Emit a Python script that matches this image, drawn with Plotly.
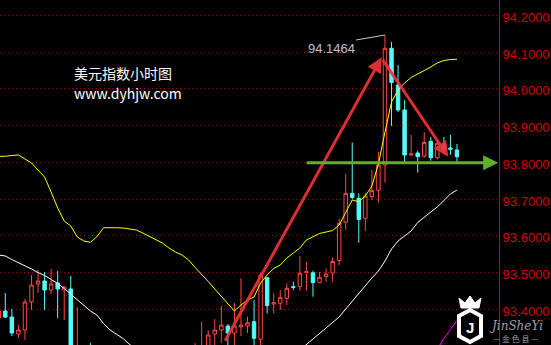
import plotly.graph_objects as go

# ---------------- data ----------------
candle_idx = [-1, 0, 1, 2, 3, 4, 5, 6, 7, 8, 9, 10, 11, 13,
              29, 30, 31, 32, 33, 34, 35, 36, 37, 38, 39, 40, 41, 42, 43, 44,
              45, 46, 47, 48, 49, 50, 51, 52, 53, 54, 55, 56, 57, 58, 59, 60,
              61, 62, 63, 64, 65, 66, 67, 68, 69]
opens = [93.3763, 93.3954, 93.3791, 93.3328, 93.3437, 93.4199, 93.4689, 93.4770, 93.4525, 93.4716, 93.4525, 93.4552, 93.2500, 93.2800,
         93.2600, 93.2600, 93.2800, 93.3328, 93.3437, 93.3546, 93.3355, 93.3519, 93.3546, 93.3663, 93.3184, 93.4860, 93.4144, 93.4163, 93.4299, 93.4615,
         93.4615, 93.5007, 93.4996, 93.4724, 93.4887, 93.4988, 93.5328, 93.6370, 93.7156, 93.7020, 93.6476, 93.7064, 93.7238, 93.7927, 94.1102, 94.0103,
         93.9423, 93.8199, 93.8253, 93.8166, 93.8571, 93.8125, 93.8490, 93.8389, 93.8335]
highs = [93.3981, 93.4444, 93.4008, 93.3573, 93.4280, 93.4933, 93.5069, 93.5015, 93.5097, 93.5042, 93.4634, 93.4906, 93.4063, 93.3083,
         93.3083, 93.3663, 93.3437, 93.3736, 93.4090, 93.3600, 93.4172, 93.4852, 93.3799, 93.4253, 93.4996, 93.4871, 93.4444, 93.4525, 93.4707, 93.4751,
         93.5450, 93.5295, 93.5050, 93.5023, 93.5116, 93.5415, 93.6465, 93.7682, 93.8539, 93.7156, 93.7173, 93.7790, 93.8280, 94.1464, 94.1273, 94.0648,
         93.9695, 93.8743, 93.8316, 93.8824, 93.8688, 93.8580, 93.8688, 93.8743, 93.8498]
lows = [93.3709, 93.3763, 93.3274, 93.3219, 93.3165, 93.3981, 93.4444, 93.3981, 93.4416, 93.3763, 93.3709, 93.2500, 93.2400, 93.2500,
        93.2500, 93.2500, 93.2700, 93.2900, 93.3083, 93.2900, 93.3000, 93.3274, 93.3355, 93.2950, 93.2950, 93.3891, 93.3891, 93.3981, 93.4117, 93.4525,
        93.4506, 93.4506, 93.4343, 93.4716, 93.4751, 93.4751, 93.5200, 93.6166, 93.7001, 93.5812, 93.6131, 93.6982, 93.6901, 93.7450, 93.8988, 93.9369,
        93.8008, 93.8180, 93.7722, 93.8122, 93.8044, 93.8082, 93.8226, 93.8199, 93.7973]
closes = [93.3954, 93.3791, 93.3355, 93.3437, 93.4199, 93.4661, 93.4770, 93.4525, 93.4689, 93.4552, 93.4607, 93.2600, 93.2900, 93.2600,
          93.2800, 93.2900, 93.3301, 93.3437, 93.3573, 93.3355, 93.3546, 93.3573, 93.3636, 93.3211, 93.4933, 93.4098, 93.4180, 93.4327, 93.4572, 93.4599,
          93.4980, 93.5023, 93.4724, 93.4871, 93.4961, 93.5301, 93.6340, 93.7156, 93.7042, 93.6444, 93.7083, 93.7233, 93.7927, 94.1102, 94.0171, 93.9423,
          93.8199, 93.8226, 93.8152, 93.8539, 93.8125, 93.8517, 93.8362, 93.8354, 93.8152]

ma_idx = list(range(-1, 70))
ma_yellow = [93.8163, 93.8163, 93.8185, 93.8199, 93.8090, 93.7981, 93.7790, 93.7600, 93.7192, 93.6756,
             93.6403, 93.6267, 93.5967, 93.5859, 93.5823, 93.5976, 93.6220, 93.6226, 93.6220, 93.6212,
             93.6193, 93.6158, 93.6076, 93.5981, 93.5894, 93.5804, 93.5668, 93.5559, 93.5478, 93.5342,
             93.5137, 93.4961, 93.4757, 93.4552, 93.4362, 93.4144, 93.3954, 93.4117, 93.4253, 93.4335,
             93.4716, 93.4933, 93.5110, 93.5206, 93.5396, 93.5532, 93.5668, 93.5886, 93.5981, 93.6063,
             93.6103, 93.6144, 93.6294, 93.6648, 93.6974, 93.6928, 93.7083, 93.7355, 93.7954, 93.8824,
             93.9641, 93.9967, 94.0158, 94.0307, 94.0403, 94.0484, 94.0593, 94.0702, 94.0770, 94.0797,
             94.0803]
ma_white = [93.5478, 93.5450, 93.5355, 93.5274, 93.5192, 93.5097, 93.5001, 93.4920, 93.4811, 93.4702,
            93.4566, 93.4416, 93.4240, 93.4090, 93.3954, 93.3845, 93.3614, 93.3437, 93.3314, 93.3206,
            93.3042, 93.2920] + [None] * 24 + [
            93.2893, 93.3042, 93.3192, 93.3328, 93.3491, 93.3641, 93.3791, 93.4008, 93.4226, 93.4444,
            93.4661, 93.4852, 93.5042, 93.5314, 93.5641, 93.5859, 93.5995, 93.6131, 93.6362, 93.6512,
            93.6648, 93.6784, 93.6974, 93.7137, 93.7246]
ma_magenta_idx = [66, 67, 68, 69]
ma_magenta = [93.2920, 93.3206, 93.3450, 93.3695]

tick_vals = [93.4, 93.5, 93.6, 93.7, 93.8, 93.9, 94.0, 94.1, 94.2]
tick_text = ["%.4f" % v for v in tick_vals]

peak_value = 94.1464
peak_marker_idx = [53.6, 56.75, 58.0]
peak_marker_val = [94.1328, 94.1437, 94.1464]
peak_label_pos = (49.9, 94.111)

# arrows: (tail idx, tail price, head idx, head price)
arrow_up = (33.45, 93.3102, 57.5, 94.0857)
arrow_down = (57.5, 94.0830, 67.68, 93.8152)
support_level = 93.799
support_span = (45.8, 75.3)

x_range = [-0.81, 75.42]
y_range = [93.3029, 94.2416]

# ---------------- figure ----------------
fig = go.Figure()

fig.add_trace(go.Scatter(x=ma_idx, y=ma_white, mode="lines",
                         line=dict(color="#ffffff", width=1), connectgaps=False,
                         hoverinfo="skip", showlegend=False))
fig.add_trace(go.Scatter(x=ma_magenta_idx, y=ma_magenta, mode="lines",
                         line=dict(color="#ff00ff", width=1),
                         hoverinfo="skip", showlegend=False))
fig.add_trace(go.Scatter(x=ma_idx, y=ma_yellow, mode="lines",
                         line=dict(color="#ffff00", width=1),
                         hoverinfo="skip", showlegend=False))

fig.add_trace(go.Candlestick(
    x=candle_idx, open=opens, high=highs, low=lows, close=closes,
    increasing=dict(line=dict(color="#ff4646", width=1), fillcolor="#000000"),
    decreasing=dict(line=dict(color="#54fcfc", width=1), fillcolor="#54fcfc"),
    whiskerwidth=0, showlegend=False, hoverinfo="skip"))

fig.add_trace(go.Scatter(x=peak_marker_idx, y=peak_marker_val, mode="lines",
                         line=dict(color="#c8c8c8", width=1),
                         hoverinfo="skip", showlegend=False))

annotations = []
# peak label
annotations.append(dict(x=peak_label_pos[0], y=peak_label_pos[1], xref="x", yref="y",
                        text="%.4f" % peak_value, showarrow=False,
                        font=dict(family="Liberation Sans, Arial", size=13, color="#b4c6da"),
                        xanchor="center", yanchor="middle"))
# red arrows
for (tx, ty, hx, hy) in (arrow_up, arrow_down):
    annotations.append(dict(x=hx, y=hy, ax=tx, ay=ty, xref="x", yref="y", axref="x", ayref="y",
                            text="", showarrow=True, arrowhead=2, arrowsize=1.0,
                            arrowwidth=3, arrowcolor="rgba(240,50,58,0.92)"))
# green support arrow
annotations.append(dict(x=support_span[1], y=support_level, ax=support_span[0], ay=support_level,
                        xref="x", yref="y", axref="x", ayref="y",
                        text="", showarrow=True, arrowhead=2, arrowsize=1.0,
                        arrowwidth=3, arrowcolor="#62b02a"))
# title texts
annotations.append(dict(x=72 / 499, y=1 - 73 / 345, xref="paper", yref="paper",
                        text="美元指数小时图", showarrow=False, xanchor="left", yanchor="middle",
                        font=dict(family="Noto Sans CJK SC", size=14, color="#ffffff")))
annotations.append(dict(x=72 / 499, y=1 - 93 / 345, xref="paper", yref="paper",
                        text="www.dyhjw.com", showarrow=False, xanchor="left", yanchor="middle",
                        font=dict(family="Noto Sans CJK SC", size=14, color="#ffffff")))
# watermark texts
annotations.append(dict(x=516 / 499, y=1 - 326 / 345, xref="paper", yref="paper",
                        text="<i>JinSheYi</i>", showarrow=False, xanchor="center", yanchor="middle",
                        font=dict(family="DejaVu Serif", size=12, color="rgba(200,200,200,0.8)")))
annotations.append(dict(x=515 / 499, y=1 - 338 / 345, xref="paper", yref="paper",
                        text="— 金 色 县 —", showarrow=False, xanchor="center", yanchor="middle",
                        font=dict(family="Noto Sans CJK SC", size=8, color="rgba(200,200,200,0.8)")))


def px(xp, yp):
    return "%.4f,%.4f" % (xp / 499, 1 - yp / 345)


hexagon = "M" + " L".join(px(a, b) for a, b in
                          [(470, 310), (481, 316), (481, 336), (470, 342), (459, 336), (459, 316)]) + " Z"
crown = "M" + " L".join(px(a, b) for a, b in
                        [(461, 308), (459, 298), (465, 303), (470, 296), (475, 303), (481, 298), (479, 308)]) + " Z"
shapes = [
    dict(type="path", path=hexagon, xref="paper", yref="paper",
         line=dict(color="#ffffff", width=4), fillcolor="rgba(0,0,0,0)"),
    dict(type="path", path=crown, xref="paper", yref="paper",
         line=dict(color="#ffffff", width=1), fillcolor="#ffffff"),
]
annotations.append(dict(x=470 / 499, y=1 - 327 / 345, xref="paper", yref="paper",
                        text="<b>J</b>", showarrow=False, xanchor="center", yanchor="middle",
                        font=dict(family="Liberation Sans", size=15, color="#ffffff")))

fig.update_layout(
    width=551, height=345,
    margin=dict(l=0, r=52, t=0, b=0),
    paper_bgcolor="#000000", plot_bgcolor="#000000",
    showlegend=False, boxgap=0.25,
    annotations=annotations, shapes=shapes,
    xaxis=dict(range=x_range, visible=False, showgrid=False, zeroline=False,
               rangeslider=dict(visible=False), fixedrange=True),
    yaxis=dict(range=y_range, side="right", tickvals=tick_vals, ticktext=tick_text,
               showgrid=True, gridcolor="#b40000", gridwidth=1, griddash="1px,3px",
               showline=True, linecolor="#d00000", linewidth=1, zeroline=False,
               ticks="", ticklabelshift=2,
               tickfont=dict(family="Liberation Sans, Arial", size=13, color="#d00000"),
               fixedrange=True),
)

fig.write_html("out.html")
